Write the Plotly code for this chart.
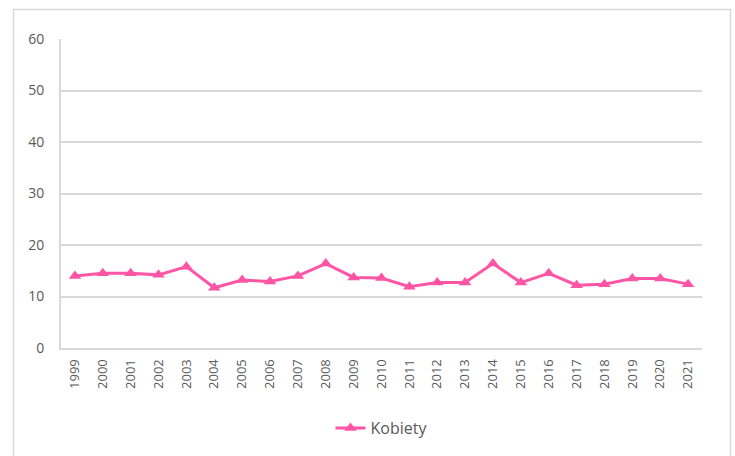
import plotly.graph_objects as go

years = [str(y) for y in range(1999, 2022)]
kobiety = [14.0, 14.5, 14.5, 14.2, 15.8, 11.7, 13.2, 12.9, 14.0, 16.4, 13.7, 13.6,
           11.9, 12.7, 12.7, 16.4, 12.7, 14.5, 12.2, 12.4, 13.5, 13.5, 12.4]
y_ticks = [0, 10, 20, 30, 40, 50, 60]

pink = "#FF55A5"
grid = "#D9D9D9"
txt = "#595959"

fig = go.Figure()
fig.add_trace(go.Scatter(
    x=years, y=kobiety, name="Kobiety", mode="lines+markers",
    line=dict(color=pink, width=3),
    marker=dict(symbol="triangle-up", size=11, color=pink),
))

L, R, T, B = 61, 33, 39, 108
W, H = 735, 456
pw, ph = W - L - R, H - T - B

def px_x(x):
    return (x - L) / pw

def px_y(y):
    return (H - B - y) / ph

fig.update_layout(
    width=W, height=H,
    margin=dict(l=L, r=R, t=T, b=B, autoexpand=False),
    paper_bgcolor="white", plot_bgcolor="white",
    font=dict(family="Open Sans, Liberation Sans, sans-serif", size=13, color=txt),
    showlegend=True,
    legend=dict(orientation="h", x=0.5, xanchor="center", y=px_y(428), yanchor="middle",
                font=dict(size=16, color=txt)),
    xaxis=dict(type="category", range=[-0.5, len(years) - 0.5], autorange=False,
               tickangle=-90, showgrid=False, showline=True, automargin=False,
               linecolor=grid, linewidth=2, ticks="", tickfont=dict(size=13, color=txt),
               ticklabelstandoff=4),
    yaxis=dict(range=[0, 60], tickvals=y_ticks, showgrid=True, gridcolor=grid, gridwidth=1.5,
               showline=True, linecolor=grid, linewidth=2, zeroline=False, ticks="",
               automargin=False,
               tickfont=dict(size=14, color=txt), ticklabelstandoff=12),
    shapes=[dict(type="rect", xref="paper", yref="paper",
                 x0=px_x(13.5), x1=px_x(730.5), y0=px_y(470), y1=px_y(9.5),
                 line=dict(color=grid, width=1.5), fillcolor="rgba(0,0,0,0)", layer="below")],
)

fig.write_html("out.html", config={"displayModeBar": False},
               post_script="document.body.style.margin='0';document.body.style.overflow='hidden';")
